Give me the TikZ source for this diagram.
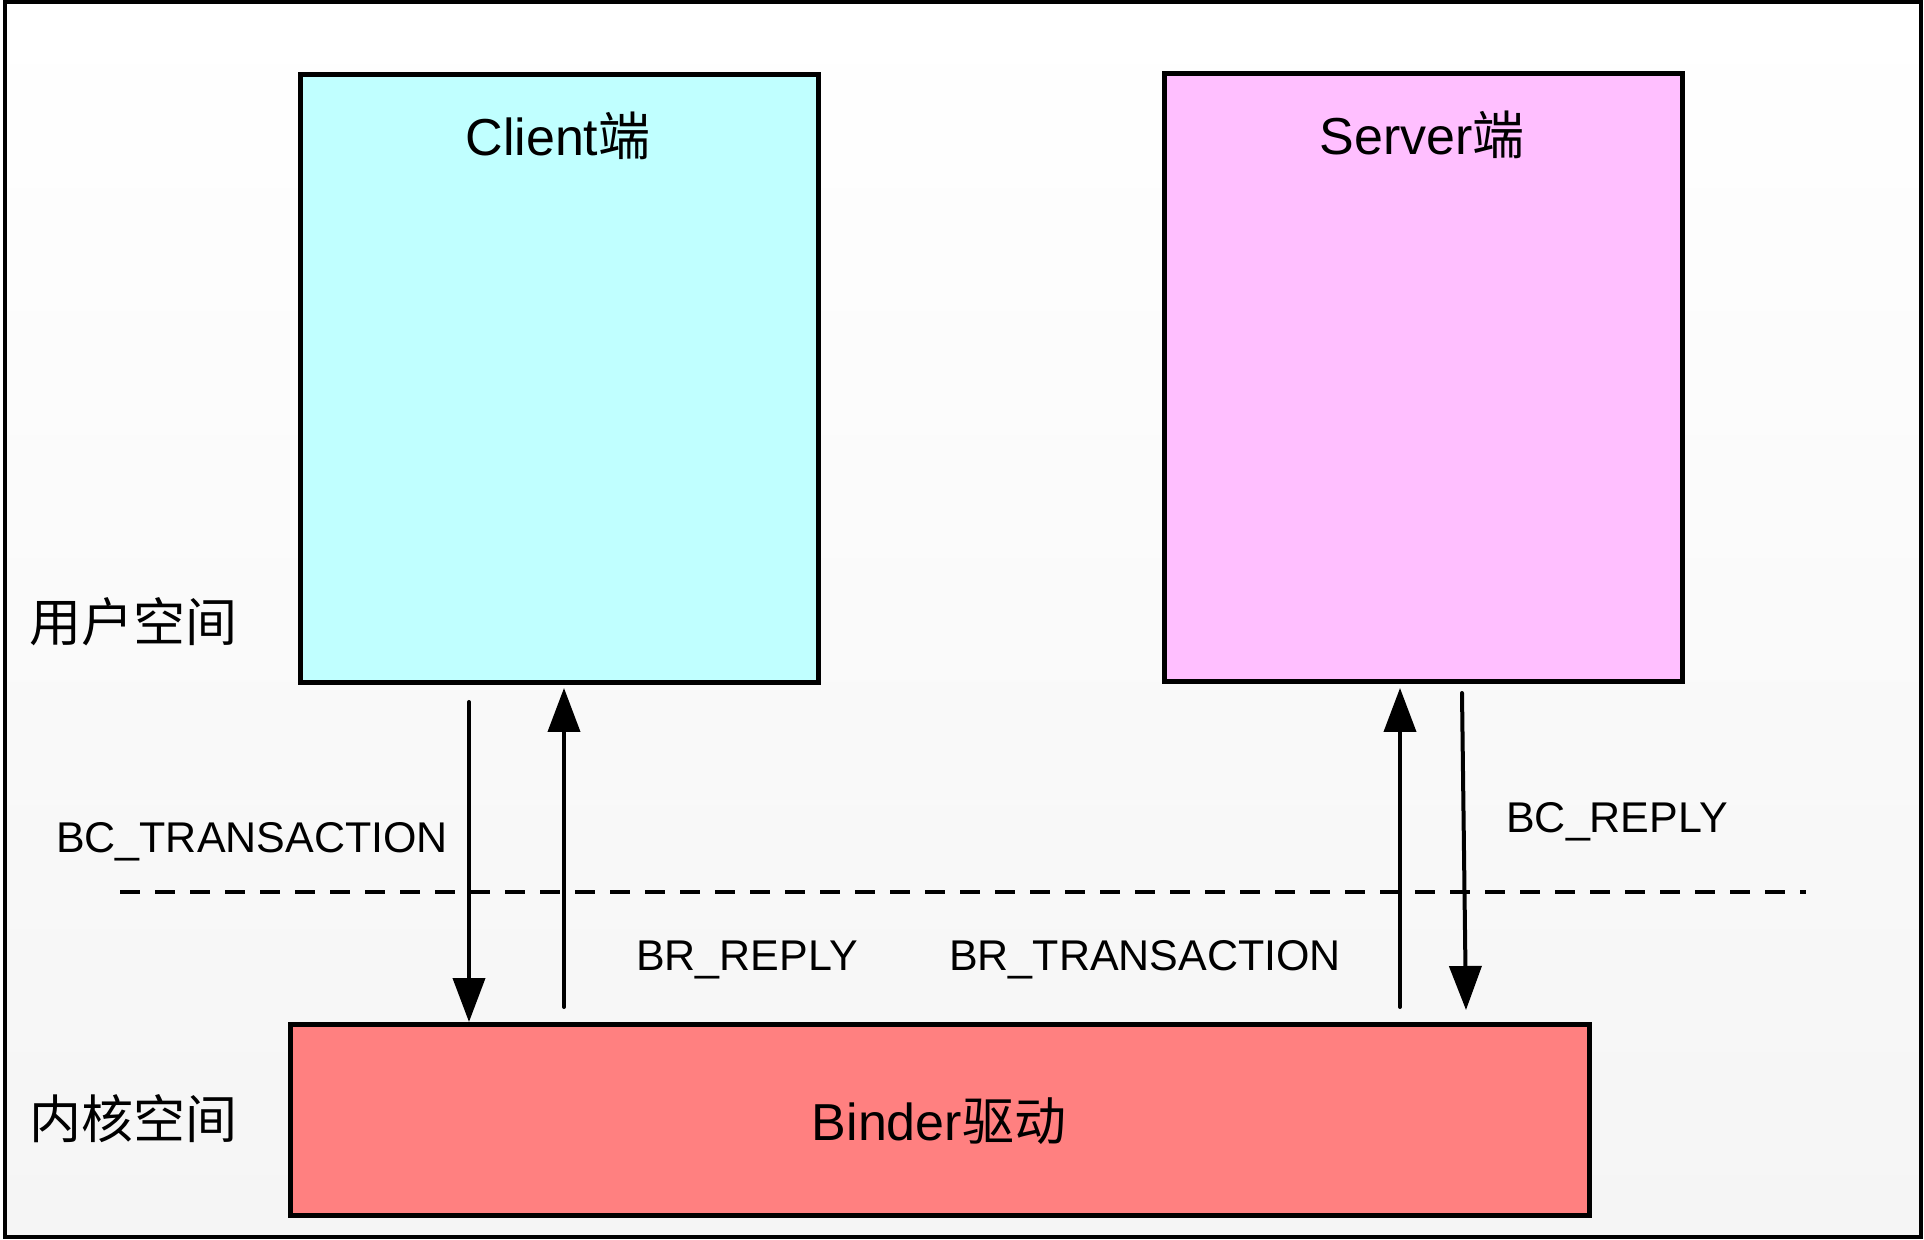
\documentclass[tikz,border=0pt]{standalone}
\usepackage{fontspec}
\setmainfont{Liberation Sans}
\newfontfamily\cjk{Noto Sans CJK SC}
\usetikzlibrary{arrows.meta,positioning}
\definecolor{clientfill}{HTML}{C0FFFF}
\definecolor{serverfill}{HTML}{FFBFFF}
\definecolor{binderfill}{HTML}{FF8080}
\definecolor{bgbottom}{HTML}{F5F5F5}
\tikzset{
  px/.style={x=0.5pt,y=-0.5pt},
  boxstyle/.style={draw=black,line width=2.5pt,inner sep=0pt},
  lbl/.style={inner sep=0pt,anchor=base,font=\fontsize{21.5pt}{24pt}\selectfont},
  title/.style={inner sep=0pt,anchor=base,font=\fontsize{26pt}{30pt}\selectfont},
  side/.style={inner sep=0pt,anchor=base west,font=\fontsize{26pt}{30pt}\selectfont\cjk},
  flow/.style={line width=2pt,line cap=round,-{Triangle[length=22pt,width=16pt]}},
  divider/.style={line width=2.3pt,dash pattern=on 10pt off 7.5pt}
}
\begin{document}
\begin{tikzpicture}[px]
\useasboundingbox (0,0) rectangle (1924,1240);
% background frame
\shade[top color=white,bottom color=bgbottom] (5,2) rectangle (1921,1237);
\draw[line width=2.3pt] (5,2) rectangle (1921,1237);
% boxes
\node[boxstyle,fill=clientfill,minimum width=259pt,minimum height=304pt] (client) at (559,379) {};
\node[boxstyle,fill=serverfill,minimum width=259pt,minimum height=304pt] (server) at (1423,378) {};
\node[boxstyle,fill=binderfill,minimum width=649.5pt,minimum height=95.5pt] (binder) at (939.5,1119.5) {};
% titles
\node[title] (clientlbl) at (558,156) {Client{\cjk 端}};
\node[title] (serverlbl) at (1422,155) {Server{\cjk 端}};
\node[title] (binderlbl) at (939,1140) {Binder{\cjk 驱动}};
% side labels
\node[side] (userspace) at (29,642) {用户空间};
\node[side] (kernelspace) at (29,1138) {内核空间};
% divider
\coordinate (dl) at (120,892);
\coordinate (dr) at (1806,892);
\draw[divider] (dl) -- (dr);
% arrow ends
\coordinate (a1s) at (469,702);
\coordinate (a1e) at (469,1022);
\coordinate (a2s) at (564,1007);
\coordinate (a2e) at (564,688);
\coordinate (a3s) at (1400,1007);
\coordinate (a3e) at (1400,688);
\coordinate (a4s) at (1462,693);
\coordinate (a4e) at (1466,1010);
\draw[flow] (a1s) -- (a1e);
\draw[flow] (a2s) -- (a2e);
\draw[flow] (a3s) -- (a3e);
\draw[flow] (a4s) -- (a4e);
% arrow labels
\node[lbl] (bctrans) at (252,853) {BC\_TRANSACTION};
\node[lbl] (brreply) at (747,971) {BR\_REPLY};
\node[lbl] (brtrans) at (1145,971) {BR\_TRANSACTION};
\node[lbl] (bcreply) at (1617,833) {BC\_REPLY};
\end{tikzpicture}
\end{document}
